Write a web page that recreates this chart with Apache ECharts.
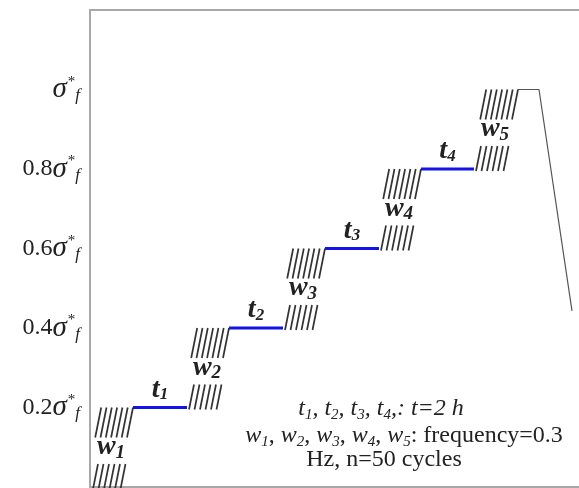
<!DOCTYPE html>
<html>
<head>
<meta charset="utf-8">
<script src="https://cdn.jsdelivr.net/npm/echarts@6/dist/echarts.min.js"></script>
<style>
  html, body { margin: 0; padding: 0; background: #fff; }
  #chart { width: 579px; height: 488px; }
</style>
</head>
<body>
<div id="chart"></div>
<script>
// Creep holds t1..t4: stress level (fraction of σ*f) and time span
const holdLevels = [0.2, 0.4, 0.6, 0.8];
const holdStart = [43, 139, 235, 331];
const holdEnd = [97, 193, 289, 384];
const holdIndex = ['1', '2', '3', '4'];

// Cyclic loading blocks w1..w5 between consecutive levels
const rampStart = [1, 97, 193, 289, 384];
const rampEnd = [43, 139, 235, 331, 428];
const rampFrom = [0, 0.2, 0.4, 0.6, 0.8];
const rampTo = [0.2, 0.4, 0.6, 0.8, 1.0];
const rampIndex = ['1', '2', '3', '4', '5'];

// Final hold at σ*f followed by unloading
const peakTime = [428, 449, 482];
const peakStress = [1.0, 1.0, 0.443];

// Y axis ticks and their coefficients in front of σ*f
const yTicks = [0.2, 0.4, 0.6, 0.8, 1.0];
const yTickCoef = ['0.2', '0.4', '0.6', '0.8', ''];

const SERIF = 'Liberation Serif, Times New Roman, serif';
const INK = '#222';
const FRAME = { show: true, lineStyle: { color: '#a8a8a8', width: 2 } };

const holdData = holdLevels.map((lv, i) => [holdStart[i], holdEnd[i], lv]);
const rampData = rampFrom.map((f, i) => [rampStart[i], f, rampEnd[i], rampTo[i]]);
const peakData = peakTime.map((t, i) => [t, peakStress[i]]);

const boldItalic = (size) => ({ fontFamily: SERIF, fontStyle: 'italic', fontWeight: 'bold', fontSize: size, fill: INK });

const chart = echarts.init(document.getElementById('chart'), null, { renderer: 'canvas' });

const frameAxis = (pos) => ({
  type: 'value', min: 0, max: 489, position: pos,
  axisLine: FRAME, axisTick: { show: false }, axisLabel: { show: false }, splitLine: { show: false }
});

chart.setOption({
  animation: false,
  backgroundColor: '#fff',
  grid: { left: 90, right: 0, top: 10, bottom: 1 },
  xAxis: [frameAxis('bottom'), frameAxis('top')],
  yAxis: {
    type: 'value', min: 0, max: 1.2, interval: 0.2,
    axisLine: FRAME, axisTick: { show: false }, splitLine: { show: false },
    axisLabel: {
      margin: 10,
      formatter: (v) => {
        const i = yTicks.findIndex(t => Math.abs(t - v) < 1e-6);
        if (i < 0) return '';
        const c = yTickCoef[i];
        return (c ? '{n|' + c + '}' : '') + '{s|σ}{sup|*}{sub|f}';
      },
      rich: {
        n: { fontFamily: SERIF, fontSize: 24, color: INK, lineHeight: 30 },
        s: { fontFamily: SERIF, fontStyle: 'italic', fontSize: 29, color: INK, lineHeight: 30, padding: [0, 1, 0, 0] },
        sup: { fontFamily: SERIF, fontSize: 15, color: INK, verticalAlign: 'top', lineHeight: 20 },
        sub: { fontFamily: SERIF, fontStyle: 'italic', fontSize: 17, color: INK, verticalAlign: 'bottom', lineHeight: 20 }
      }
    }
  },
  series: [
    {
      // cyclic loading blocks drawn as hatched strokes around each ramp
      type: 'custom',
      data: rampData,
      renderItem: (params, api) => {
        const a = api.coord([api.value(0), api.value(1)]);
        const b = api.coord([api.value(2), api.value(3)]);
        const children = [];
        for (let j = 0; j < 6; j++) {
          const bx = a[0] + 2 + j * 5.5;
          children.push({ type: 'line', shape: { x1: bx, y1: a[1] + 2, x2: bx + 5, y2: a[1] - 23 },
            style: { stroke: '#333', lineWidth: 1.7 } });
        }
        for (let j = 0; j < 7; j++) {
          const tx = b[0] - j * 5.3;
          children.push({ type: 'line', shape: { x1: tx, y1: b[1], x2: tx - 6, y2: b[1] + 30 },
            style: { stroke: '#333', lineWidth: 1.7 } });
        }
        children.push({
          type: 'text',
          x: (a[0] + b[0]) / 2 - 1, y: (a[1] + b[1]) / 2,
          style: {
            text: '{w|w}{d|' + rampIndex[params.dataIndex] + '}',
            align: 'center', verticalAlign: 'middle',
            rich: {
              w: Object.assign(boldItalic(28), { lineHeight: 30 }),
              d: Object.assign(boldItalic(19), { lineHeight: 18, verticalAlign: 'bottom' })
            }
          }
        });
        return { type: 'group', children };
      },
      z: 3
    },
    {
      // creep holds
      type: 'custom',
      data: holdData,
      renderItem: (params, api) => {
        const a = api.coord([api.value(0), api.value(2)]);
        const b = api.coord([api.value(1), api.value(2)]);
        return {
          type: 'group',
          children: [
            { type: 'line', shape: { x1: a[0], y1: a[1], x2: b[0], y2: b[1] },
              style: { stroke: '#1414e8', lineWidth: 3 } },
            {
              type: 'text', x: (a[0] + b[0]) / 2, y: a[1] - 18,
              style: {
                text: '{t|t}{d|' + holdIndex[params.dataIndex] + '}',
                align: 'center', verticalAlign: 'middle',
                rich: {
                  t: Object.assign(boldItalic(28), { lineHeight: 28 }),
                  d: Object.assign(boldItalic(17), { lineHeight: 17, verticalAlign: 'bottom' })
                }
              }
            }
          ]
        };
      },
      z: 4
    },
    {
      type: 'line',
      data: peakData,
      symbol: 'none',
      lineStyle: { color: '#555', width: 1.2 },
      z: 2
    }
  ],
  graphic: [
    {
      type: 'text', x: 381, y: 409,
      style: {
        text: '{i|t}{s|1}{i|, t}{s|2}{i|, t}{s|3}{i|, t}{s|4}{i|,: t=2 h}',
        align: 'center', verticalAlign: 'middle',
        rich: {
          i: { fontFamily: SERIF, fontStyle: 'italic', fontSize: 24, fill: INK, lineHeight: 28 },
          s: { fontFamily: SERIF, fontStyle: 'italic', fontSize: 15, fill: INK, lineHeight: 16, verticalAlign: 'bottom' }
        }
      }
    },
    {
      type: 'text', x: 404, y: 436,
      style: {
        text: '{i|w}{s|1}{r|, }{i|w}{s|2}{r|, }{i|w}{s|3}{r|, }{i|w}{s|4}{r|, }{i|w}{s|5}{r|: frequency=0.3}',
        align: 'center', verticalAlign: 'middle',
        rich: {
          i: { fontFamily: SERIF, fontStyle: 'italic', fontSize: 24, fill: INK, lineHeight: 28 },
          r: { fontFamily: SERIF, fontSize: 24, fill: INK, lineHeight: 28 },
          s: { fontFamily: SERIF, fontStyle: 'italic', fontSize: 15, fill: INK, lineHeight: 16, verticalAlign: 'bottom' }
        }
      }
    },
    {
      type: 'text', x: 384, y: 460,
      style: {
        text: 'Hz, n=50 cycles',
        align: 'center', verticalAlign: 'middle',
        font: '24px ' + SERIF, fill: INK
      }
    }
  ]
});
</script>
</body>
</html>
